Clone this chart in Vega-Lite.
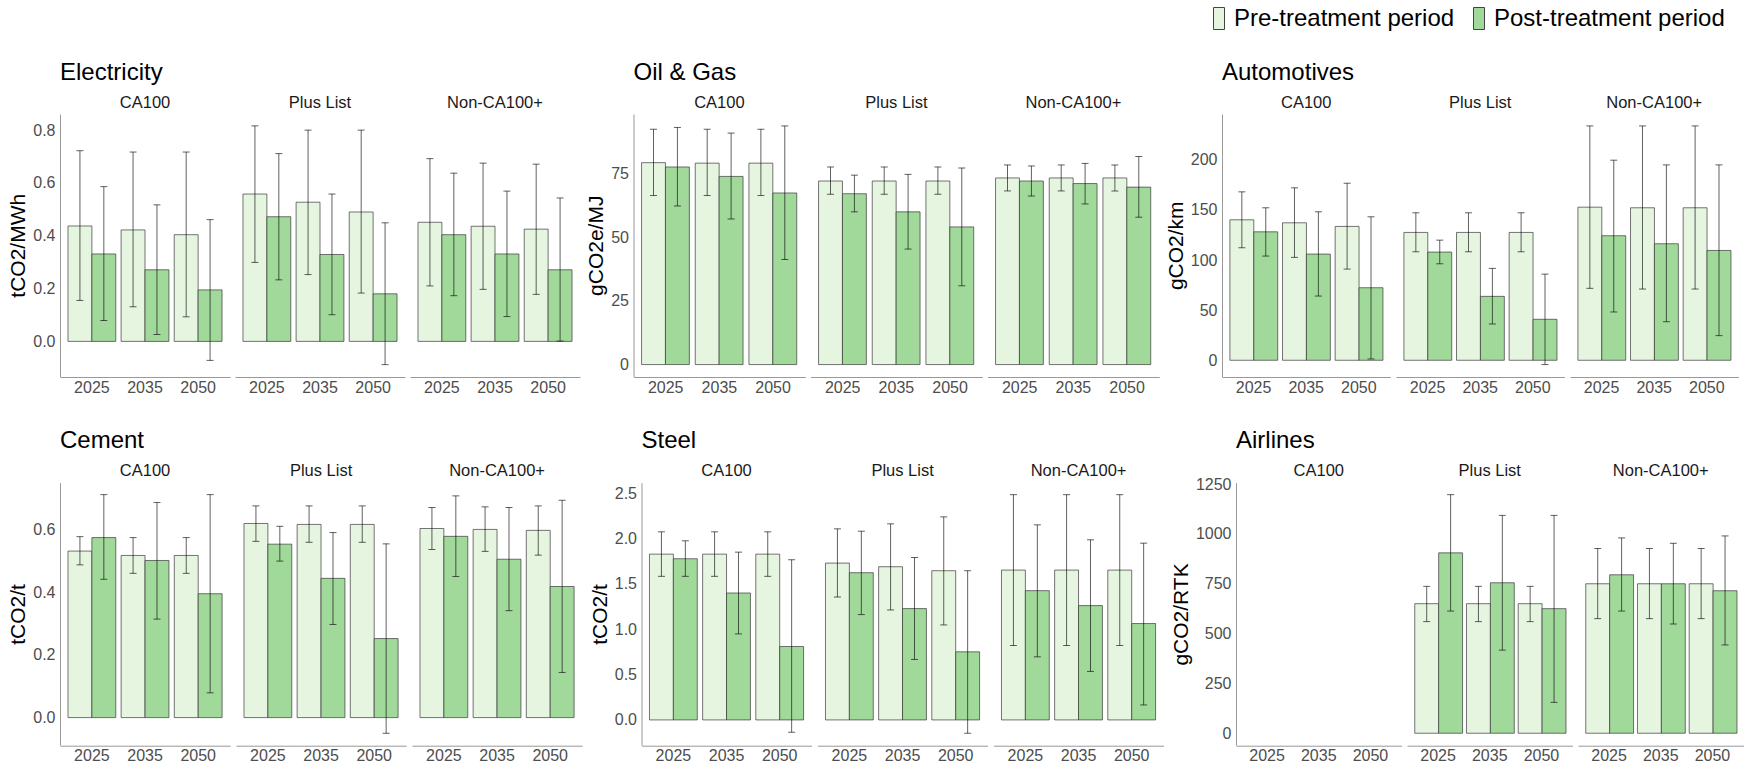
{
  "$schema": "https://vega.github.io/schema/vega-lite/v6.json",
  "padding": {"left": 7, "top": 6, "right": 0, "bottom": 0},
  "background": "white",
  "data": {"values": [
    {"sector":"Electricity","group":"CA100","year":"2025","period":"Pre-treatment period","value":0.437,"lo":0.155,"hi":0.722},
    {"sector":"Electricity","group":"CA100","year":"2025","period":"Post-treatment period","value":0.331,"lo":0.079,"hi":0.586},
    {"sector":"Electricity","group":"CA100","year":"2035","period":"Pre-treatment period","value":0.422,"lo":0.131,"hi":0.717},
    {"sector":"Electricity","group":"CA100","year":"2035","period":"Post-treatment period","value":0.271,"lo":0.026,"hi":0.517},
    {"sector":"Electricity","group":"CA100","year":"2050","period":"Pre-treatment period","value":0.404,"lo":0.093,"hi":0.717},
    {"sector":"Electricity","group":"CA100","year":"2050","period":"Post-treatment period","value":0.195,"lo":-0.072,"hi":0.461},
    {"sector":"Electricity","group":"Plus List","year":"2025","period":"Pre-treatment period","value":0.558,"lo":0.299,"hi":0.816},
    {"sector":"Electricity","group":"Plus List","year":"2025","period":"Post-treatment period","value":0.472,"lo":0.233,"hi":0.711},
    {"sector":"Electricity","group":"Plus List","year":"2035","period":"Pre-treatment period","value":0.527,"lo":0.253,"hi":0.800},
    {"sector":"Electricity","group":"Plus List","year":"2035","period":"Post-treatment period","value":0.329,"lo":0.101,"hi":0.558},
    {"sector":"Electricity","group":"Plus List","year":"2050","period":"Pre-treatment period","value":0.490,"lo":0.183,"hi":0.800},
    {"sector":"Electricity","group":"Plus List","year":"2050","period":"Post-treatment period","value":0.180,"lo":-0.088,"hi":0.449},
    {"sector":"Electricity","group":"Non-CA100+","year":"2025","period":"Pre-treatment period","value":0.451,"lo":0.210,"hi":0.692},
    {"sector":"Electricity","group":"Non-CA100+","year":"2025","period":"Post-treatment period","value":0.404,"lo":0.173,"hi":0.637},
    {"sector":"Electricity","group":"Non-CA100+","year":"2035","period":"Pre-treatment period","value":0.436,"lo":0.197,"hi":0.675},
    {"sector":"Electricity","group":"Non-CA100+","year":"2035","period":"Post-treatment period","value":0.331,"lo":0.094,"hi":0.569},
    {"sector":"Electricity","group":"Non-CA100+","year":"2050","period":"Pre-treatment period","value":0.425,"lo":0.178,"hi":0.671},
    {"sector":"Electricity","group":"Non-CA100+","year":"2050","period":"Post-treatment period","value":0.271,"lo":0.001,"hi":0.543},

    {"sector":"Oil & Gas","group":"CA100","year":"2025","period":"Pre-treatment period","value":79.2,"lo":66.3,"hi":92.3},
    {"sector":"Oil & Gas","group":"CA100","year":"2025","period":"Post-treatment period","value":77.5,"lo":62.2,"hi":93.0},
    {"sector":"Oil & Gas","group":"CA100","year":"2035","period":"Pre-treatment period","value":79.0,"lo":66.3,"hi":92.3},
    {"sector":"Oil & Gas","group":"CA100","year":"2035","period":"Post-treatment period","value":73.8,"lo":57.1,"hi":90.8},
    {"sector":"Oil & Gas","group":"CA100","year":"2050","period":"Pre-treatment period","value":79.0,"lo":66.3,"hi":92.3},
    {"sector":"Oil & Gas","group":"CA100","year":"2050","period":"Post-treatment period","value":67.3,"lo":41.2,"hi":93.6},
    {"sector":"Oil & Gas","group":"Plus List","year":"2025","period":"Pre-treatment period","value":72.0,"lo":66.8,"hi":77.5},
    {"sector":"Oil & Gas","group":"Plus List","year":"2025","period":"Post-treatment period","value":67.0,"lo":59.9,"hi":74.3},
    {"sector":"Oil & Gas","group":"Plus List","year":"2035","period":"Pre-treatment period","value":72.0,"lo":66.8,"hi":77.5},
    {"sector":"Oil & Gas","group":"Plus List","year":"2035","period":"Post-treatment period","value":59.9,"lo":45.3,"hi":74.6},
    {"sector":"Oil & Gas","group":"Plus List","year":"2050","period":"Pre-treatment period","value":72.0,"lo":66.8,"hi":77.5},
    {"sector":"Oil & Gas","group":"Plus List","year":"2050","period":"Post-treatment period","value":54.0,"lo":30.9,"hi":77.1},
    {"sector":"Oil & Gas","group":"Non-CA100+","year":"2025","period":"Pre-treatment period","value":73.2,"lo":68.1,"hi":78.3},
    {"sector":"Oil & Gas","group":"Non-CA100+","year":"2025","period":"Post-treatment period","value":72.0,"lo":66.1,"hi":77.9},
    {"sector":"Oil & Gas","group":"Non-CA100+","year":"2035","period":"Pre-treatment period","value":73.2,"lo":68.1,"hi":78.3},
    {"sector":"Oil & Gas","group":"Non-CA100+","year":"2035","period":"Post-treatment period","value":71.0,"lo":63.0,"hi":78.9},
    {"sector":"Oil & Gas","group":"Non-CA100+","year":"2050","period":"Pre-treatment period","value":73.2,"lo":68.1,"hi":78.3},
    {"sector":"Oil & Gas","group":"Non-CA100+","year":"2050","period":"Post-treatment period","value":69.6,"lo":57.8,"hi":81.6},

    {"sector":"Automotives","group":"CA100","year":"2025","period":"Pre-treatment period","value":140.2,"lo":112.3,"hi":168.1},
    {"sector":"Automotives","group":"CA100","year":"2025","period":"Post-treatment period","value":128.2,"lo":104.0,"hi":152.2},
    {"sector":"Automotives","group":"CA100","year":"2035","period":"Pre-treatment period","value":137.2,"lo":102.7,"hi":172.1},
    {"sector":"Automotives","group":"CA100","year":"2035","period":"Post-treatment period","value":106.0,"lo":64.1,"hi":148.2},
    {"sector":"Automotives","group":"CA100","year":"2050","period":"Pre-treatment period","value":133.6,"lo":91.0,"hi":176.7},
    {"sector":"Automotives","group":"CA100","year":"2050","period":"Post-treatment period","value":72.4,"lo":1.3,"hi":143.2},
    {"sector":"Automotives","group":"Plus List","year":"2025","period":"Pre-treatment period","value":127.6,"lo":108.3,"hi":147.2},
    {"sector":"Automotives","group":"Plus List","year":"2025","period":"Post-treatment period","value":108.0,"lo":96.3,"hi":119.9},
    {"sector":"Automotives","group":"Plus List","year":"2035","period":"Pre-treatment period","value":127.6,"lo":108.3,"hi":147.2},
    {"sector":"Automotives","group":"Plus List","year":"2035","period":"Post-treatment period","value":63.8,"lo":36.2,"hi":91.7},
    {"sector":"Automotives","group":"Plus List","year":"2050","period":"Pre-treatment period","value":127.6,"lo":108.3,"hi":147.2},
    {"sector":"Automotives","group":"Plus List","year":"2050","period":"Post-treatment period","value":40.9,"lo":-4.3,"hi":86.0},
    {"sector":"Automotives","group":"Non-CA100+","year":"2025","period":"Pre-treatment period","value":152.8,"lo":71.8,"hi":233.9},
    {"sector":"Automotives","group":"Non-CA100+","year":"2025","period":"Post-treatment period","value":124.3,"lo":48.2,"hi":199.7},
    {"sector":"Automotives","group":"Non-CA100+","year":"2035","period":"Pre-treatment period","value":152.2,"lo":71.1,"hi":233.9},
    {"sector":"Automotives","group":"Non-CA100+","year":"2035","period":"Post-treatment period","value":116.3,"lo":38.5,"hi":195.0},
    {"sector":"Automotives","group":"Non-CA100+","year":"2050","period":"Pre-treatment period","value":152.2,"lo":71.1,"hi":233.9},
    {"sector":"Automotives","group":"Non-CA100+","year":"2050","period":"Post-treatment period","value":109.6,"lo":24.6,"hi":195.0},

    {"sector":"Cement","group":"CA100","year":"2025","period":"Pre-treatment period","value":0.531,"lo":0.487,"hi":0.577},
    {"sector":"Cement","group":"CA100","year":"2025","period":"Post-treatment period","value":0.574,"lo":0.441,"hi":0.711},
    {"sector":"Cement","group":"CA100","year":"2035","period":"Pre-treatment period","value":0.517,"lo":0.460,"hi":0.574},
    {"sector":"Cement","group":"CA100","year":"2035","period":"Post-treatment period","value":0.501,"lo":0.314,"hi":0.686},
    {"sector":"Cement","group":"CA100","year":"2050","period":"Pre-treatment period","value":0.517,"lo":0.460,"hi":0.574},
    {"sector":"Cement","group":"CA100","year":"2050","period":"Post-treatment period","value":0.395,"lo":0.079,"hi":0.711},
    {"sector":"Cement","group":"Plus List","year":"2025","period":"Pre-treatment period","value":0.619,"lo":0.562,"hi":0.675},
    {"sector":"Cement","group":"Plus List","year":"2025","period":"Post-treatment period","value":0.553,"lo":0.499,"hi":0.610},
    {"sector":"Cement","group":"Plus List","year":"2035","period":"Pre-treatment period","value":0.616,"lo":0.559,"hi":0.675},
    {"sector":"Cement","group":"Plus List","year":"2035","period":"Post-treatment period","value":0.444,"lo":0.297,"hi":0.590},
    {"sector":"Cement","group":"Plus List","year":"2050","period":"Pre-treatment period","value":0.616,"lo":0.559,"hi":0.675},
    {"sector":"Cement","group":"Plus List","year":"2050","period":"Post-treatment period","value":0.252,"lo":-0.050,"hi":0.554},
    {"sector":"Cement","group":"Non-CA100+","year":"2025","period":"Pre-treatment period","value":0.603,"lo":0.536,"hi":0.670},
    {"sector":"Cement","group":"Non-CA100+","year":"2025","period":"Post-treatment period","value":0.578,"lo":0.450,"hi":0.707},
    {"sector":"Cement","group":"Non-CA100+","year":"2035","period":"Pre-treatment period","value":0.600,"lo":0.530,"hi":0.672},
    {"sector":"Cement","group":"Non-CA100+","year":"2035","period":"Post-treatment period","value":0.505,"lo":0.341,"hi":0.670},
    {"sector":"Cement","group":"Non-CA100+","year":"2050","period":"Pre-treatment period","value":0.597,"lo":0.518,"hi":0.675},
    {"sector":"Cement","group":"Non-CA100+","year":"2050","period":"Post-treatment period","value":0.418,"lo":0.144,"hi":0.693},

    {"sector":"Steel","group":"CA100","year":"2025","period":"Pre-treatment period","value":1.829,"lo":1.584,"hi":2.075},
    {"sector":"Steel","group":"CA100","year":"2025","period":"Post-treatment period","value":1.778,"lo":1.584,"hi":1.976},
    {"sector":"Steel","group":"CA100","year":"2035","period":"Pre-treatment period","value":1.829,"lo":1.584,"hi":2.075},
    {"sector":"Steel","group":"CA100","year":"2035","period":"Post-treatment period","value":1.400,"lo":0.949,"hi":1.851},
    {"sector":"Steel","group":"CA100","year":"2050","period":"Pre-treatment period","value":1.829,"lo":1.584,"hi":2.075},
    {"sector":"Steel","group":"CA100","year":"2050","period":"Post-treatment period","value":0.810,"lo":-0.136,"hi":1.767},
    {"sector":"Steel","group":"Plus List","year":"2025","period":"Pre-treatment period","value":1.730,"lo":1.356,"hi":2.108},
    {"sector":"Steel","group":"Plus List","year":"2025","period":"Post-treatment period","value":1.624,"lo":1.162,"hi":2.082},
    {"sector":"Steel","group":"Plus List","year":"2035","period":"Pre-treatment period","value":1.690,"lo":1.213,"hi":2.163},
    {"sector":"Steel","group":"Plus List","year":"2035","period":"Post-treatment period","value":1.228,"lo":0.667,"hi":1.792},
    {"sector":"Steel","group":"Plus List","year":"2050","period":"Pre-treatment period","value":1.646,"lo":1.048,"hi":2.240},
    {"sector":"Steel","group":"Plus List","year":"2050","period":"Post-treatment period","value":0.751,"lo":-0.147,"hi":1.646},
    {"sector":"Steel","group":"Non-CA100+","year":"2025","period":"Pre-treatment period","value":1.653,"lo":0.821,"hi":2.485},
    {"sector":"Steel","group":"Non-CA100+","year":"2025","period":"Post-treatment period","value":1.426,"lo":0.696,"hi":2.152},
    {"sector":"Steel","group":"Non-CA100+","year":"2035","period":"Pre-treatment period","value":1.653,"lo":0.821,"hi":2.485},
    {"sector":"Steel","group":"Non-CA100+","year":"2035","period":"Post-treatment period","value":1.261,"lo":0.535,"hi":1.987},
    {"sector":"Steel","group":"Non-CA100+","year":"2050","period":"Pre-treatment period","value":1.653,"lo":0.821,"hi":2.485},
    {"sector":"Steel","group":"Non-CA100+","year":"2050","period":"Post-treatment period","value":1.063,"lo":0.165,"hi":1.950},

    {"sector":"Airlines","group":"CA100","year":"2025","period":"Pre-treatment period","value":null,"lo":null,"hi":null},
    {"sector":"Airlines","group":"CA100","year":"2035","period":"Pre-treatment period","value":null,"lo":null,"hi":null},
    {"sector":"Airlines","group":"CA100","year":"2050","period":"Pre-treatment period","value":null,"lo":null,"hi":null},
    {"sector":"Airlines","group":"Plus List","year":"2025","period":"Pre-treatment period","value":650,"lo":560,"hi":737},
    {"sector":"Airlines","group":"Plus List","year":"2025","period":"Post-treatment period","value":905,"lo":613,"hi":1197},
    {"sector":"Airlines","group":"Plus List","year":"2035","period":"Pre-treatment period","value":650,"lo":560,"hi":737},
    {"sector":"Airlines","group":"Plus List","year":"2035","period":"Post-treatment period","value":755,"lo":417,"hi":1093},
    {"sector":"Airlines","group":"Plus List","year":"2050","period":"Pre-treatment period","value":650,"lo":560,"hi":737},
    {"sector":"Airlines","group":"Plus List","year":"2050","period":"Post-treatment period","value":625,"lo":155,"hi":1093},
    {"sector":"Airlines","group":"Non-CA100+","year":"2025","period":"Pre-treatment period","value":750,"lo":575,"hi":927},
    {"sector":"Airlines","group":"Non-CA100+","year":"2025","period":"Post-treatment period","value":795,"lo":613,"hi":980},
    {"sector":"Airlines","group":"Non-CA100+","year":"2035","period":"Pre-treatment period","value":750,"lo":575,"hi":927},
    {"sector":"Airlines","group":"Non-CA100+","year":"2035","period":"Post-treatment period","value":750,"lo":548,"hi":953},
    {"sector":"Airlines","group":"Non-CA100+","year":"2050","period":"Pre-treatment period","value":750,"lo":575,"hi":927},
    {"sector":"Airlines","group":"Non-CA100+","year":"2050","period":"Post-treatment period","value":715,"lo":443,"hi":990}
  ]},
  "spacing": 33.7,
  "vconcat": [
    {
      "spacing": 5.5,
      "hconcat": [
        {
          "title": "Electricity",
          "transform": [{"filter": "datum.sector === 'Electricity'"}],
          "facet": {"column": {"field": "group", "type": "nominal", "sort": ["CA100", "Plus List", "Non-CA100+"], "header": {"title": null}}},
          "spacing": 5,
          "spec": {
            "width": 170, "height": 262.5,
            "encoding": {
              "x": {"field": "year", "type": "ordinal", "title": null, "scale": {"paddingInner": 0.1, "paddingOuter": 0.15}},
              "xOffset": {"field": "period", "type": "nominal", "sort": ["Pre-treatment period", "Post-treatment period"]}
            },
            "layer": [
              {"mark": {"type": "bar", "stroke": "#333", "strokeWidth": 0.9, "strokeOpacity": 0.75},
               "encoding": {
                 "y": {"field": "value", "type": "quantitative", "scale": {"domain": [-0.133, 0.861], "nice": false, "zero": false}, "axis": {"title": "tCO2/MWh", "values": [0, 0.2, 0.4, 0.6, 0.8], "format": ".1f"}},
                 "fill": {"field": "period", "type": "nominal", "sort": ["Pre-treatment period", "Post-treatment period"], "scale": {"domain": ["Pre-treatment period", "Post-treatment period"], "range": ["#e5f5e0", "#a1d99b"]}, "legend": {"title": null, "orient": "none", "direction": "horizontal", "legendX": 1147, "legendY": -107.5}}}},
              {"mark": {"type": "rule", "color": "#000", "opacity": 0.62, "strokeWidth": 1},
               "encoding": {
                 "y": {"field": "lo", "type": "quantitative", "scale": {"domain": [-0.133, 0.861], "nice": false, "zero": false}, "axis": {"title": "tCO2/MWh", "values": [0, 0.2, 0.4, 0.6, 0.8], "format": ".1f"}},
                 "y2": {"field": "hi"}}},
              {"transform": [{"fold": ["lo", "hi"], "as": ["end", "bound"]}],
               "mark": {"type": "tick", "color": "#000", "opacity": 0.62, "thickness": 1, "size": 7},
               "encoding": {
                 "y": {"field": "bound", "type": "quantitative", "scale": {"domain": [-0.133, 0.861], "nice": false, "zero": false}, "axis": {"title": "tCO2/MWh", "values": [0, 0.2, 0.4, 0.6, 0.8], "format": ".1f"}}}}
            ]
          }
        },
        {
          "title": "Oil & Gas",
          "transform": [{"filter": "datum.sector === 'Oil & Gas'"}],
          "facet": {"column": {"field": "group", "type": "nominal", "sort": ["CA100", "Plus List", "Non-CA100+"], "header": {"title": null}}},
          "spacing": 5,
          "spec": {
            "width": 171.8, "height": 262.5,
            "encoding": {
              "x": {"field": "year", "type": "ordinal", "title": null, "scale": {"paddingInner": 0.1, "paddingOuter": 0.15}},
              "xOffset": {"field": "period", "type": "nominal", "sort": ["Pre-treatment period", "Post-treatment period"]}
            },
            "layer": [
              {"mark": {"type": "bar", "stroke": "#333", "strokeWidth": 0.9, "strokeOpacity": 0.75},
               "encoding": {
                 "y": {"field": "value", "type": "quantitative", "scale": {"domain": [-4.68, 98.28], "nice": false, "zero": false}, "axis": {"title": "gCO2e/MJ", "values": [0, 25, 50, 75], "format": "d"}},
                 "fill": {"field": "period", "type": "nominal", "sort": ["Pre-treatment period", "Post-treatment period"], "scale": {"domain": ["Pre-treatment period", "Post-treatment period"], "range": ["#e5f5e0", "#a1d99b"]}, "legend": {"title": null, "orient": "none", "direction": "horizontal", "legendX": 1147, "legendY": -107.5}}}},
              {"mark": {"type": "rule", "color": "#000", "opacity": 0.62, "strokeWidth": 1},
               "encoding": {
                 "y": {"field": "lo", "type": "quantitative", "scale": {"domain": [-4.68, 98.28], "nice": false, "zero": false}, "axis": {"title": "gCO2e/MJ", "values": [0, 25, 50, 75], "format": "d"}},
                 "y2": {"field": "hi"}}},
              {"transform": [{"fold": ["lo", "hi"], "as": ["end", "bound"]}],
               "mark": {"type": "tick", "color": "#000", "opacity": 0.62, "thickness": 1, "size": 7},
               "encoding": {
                 "y": {"field": "bound", "type": "quantitative", "scale": {"domain": [-4.68, 98.28], "nice": false, "zero": false}, "axis": {"title": "gCO2e/MJ", "values": [0, 25, 50, 75], "format": "d"}}}}
            ]
          }
        },
        {
          "title": "Automotives",
          "transform": [{"filter": "datum.sector === 'Automotives'"}],
          "facet": {"column": {"field": "group", "type": "nominal", "sort": ["CA100", "Plus List", "Non-CA100+"], "header": {"title": null}}},
          "spacing": 5,
          "spec": {
            "width": 168.4, "height": 262.5,
            "encoding": {
              "x": {"field": "year", "type": "ordinal", "title": null, "scale": {"paddingInner": 0.1, "paddingOuter": 0.15}},
              "xOffset": {"field": "period", "type": "nominal", "sort": ["Pre-treatment period", "Post-treatment period"]}
            },
            "layer": [
              {"mark": {"type": "bar", "stroke": "#333", "strokeWidth": 0.9, "strokeOpacity": 0.75},
               "encoding": {
                 "y": {"field": "value", "type": "quantitative", "scale": {"domain": [-16.2, 245.8], "nice": false, "zero": false}, "axis": {"title": "gCO2/km", "values": [0, 50, 100, 150, 200], "format": "d"}},
                 "fill": {"field": "period", "type": "nominal", "sort": ["Pre-treatment period", "Post-treatment period"], "scale": {"domain": ["Pre-treatment period", "Post-treatment period"], "range": ["#e5f5e0", "#a1d99b"]}, "legend": {"title": null, "orient": "none", "direction": "horizontal", "legendX": 1147, "legendY": -107.5}}}},
              {"mark": {"type": "rule", "color": "#000", "opacity": 0.62, "strokeWidth": 1},
               "encoding": {
                 "y": {"field": "lo", "type": "quantitative", "scale": {"domain": [-16.2, 245.8], "nice": false, "zero": false}, "axis": {"title": "gCO2/km", "values": [0, 50, 100, 150, 200], "format": "d"}},
                 "y2": {"field": "hi"}}},
              {"transform": [{"fold": ["lo", "hi"], "as": ["end", "bound"]}],
               "mark": {"type": "tick", "color": "#000", "opacity": 0.62, "thickness": 1, "size": 7},
               "encoding": {
                 "y": {"field": "bound", "type": "quantitative", "scale": {"domain": [-16.2, 245.8], "nice": false, "zero": false}, "axis": {"title": "gCO2/km", "values": [0, 50, 100, 150, 200], "format": "d"}}}}
            ]
          }
        }
      ]
    },
    {
      "spacing": 5.5,
      "hconcat": [
        {
          "title": "Cement",
          "transform": [{"filter": "datum.sector === 'Cement'"}],
          "facet": {"column": {"field": "group", "type": "nominal", "sort": ["CA100", "Plus List", "Non-CA100+"], "header": {"title": null}}},
          "spacing": 5,
          "spec": {
            "width": 170.1, "height": 262.5,
            "encoding": {
              "x": {"field": "year", "type": "ordinal", "title": null, "scale": {"paddingInner": 0.1, "paddingOuter": 0.15}},
              "xOffset": {"field": "period", "type": "nominal", "sort": ["Pre-treatment period", "Post-treatment period"]}
            },
            "layer": [
              {"mark": {"type": "bar", "stroke": "#333", "strokeWidth": 0.9, "strokeOpacity": 0.75},
               "encoding": {
                 "y": {"field": "value", "type": "quantitative", "scale": {"domain": [-0.088, 0.749], "nice": false, "zero": false}, "axis": {"title": "tCO2/t", "values": [0, 0.2, 0.4, 0.6], "format": ".1f"}},
                 "fill": {"field": "period", "type": "nominal", "sort": ["Pre-treatment period", "Post-treatment period"], "scale": {"domain": ["Pre-treatment period", "Post-treatment period"], "range": ["#e5f5e0", "#a1d99b"]}, "legend": {"title": null, "orient": "none", "direction": "horizontal", "legendX": 1147, "legendY": -107.5}}}},
              {"mark": {"type": "rule", "color": "#000", "opacity": 0.62, "strokeWidth": 1},
               "encoding": {
                 "y": {"field": "lo", "type": "quantitative", "scale": {"domain": [-0.088, 0.749], "nice": false, "zero": false}, "axis": {"title": "tCO2/t", "values": [0, 0.2, 0.4, 0.6], "format": ".1f"}},
                 "y2": {"field": "hi"}}},
              {"transform": [{"fold": ["lo", "hi"], "as": ["end", "bound"]}],
               "mark": {"type": "tick", "color": "#000", "opacity": 0.62, "thickness": 1, "size": 7},
               "encoding": {
                 "y": {"field": "bound", "type": "quantitative", "scale": {"domain": [-0.088, 0.749], "nice": false, "zero": false}, "axis": {"title": "tCO2/t", "values": [0, 0.2, 0.4, 0.6], "format": ".1f"}}}}
            ]
          }
        },
        {
          "title": "Steel",
          "transform": [{"filter": "datum.sector === 'Steel'"}],
          "facet": {"column": {"field": "group", "type": "nominal", "sort": ["CA100", "Plus List", "Non-CA100+"], "header": {"title": null}}},
          "spacing": 5,
          "spec": {
            "width": 170.1, "height": 262.5,
            "encoding": {
              "x": {"field": "year", "type": "ordinal", "title": null, "scale": {"paddingInner": 0.1, "paddingOuter": 0.15}},
              "xOffset": {"field": "period", "type": "nominal", "sort": ["Pre-treatment period", "Post-treatment period"]}
            },
            "layer": [
              {"mark": {"type": "bar", "stroke": "#333", "strokeWidth": 0.9, "strokeOpacity": 0.75},
               "encoding": {
                 "y": {"field": "value", "type": "quantitative", "scale": {"domain": [-0.279, 2.617], "nice": false, "zero": false}, "axis": {"title": "tCO2/t", "values": [0, 0.5, 1, 1.5, 2, 2.5], "format": ".1f"}},
                 "fill": {"field": "period", "type": "nominal", "sort": ["Pre-treatment period", "Post-treatment period"], "scale": {"domain": ["Pre-treatment period", "Post-treatment period"], "range": ["#e5f5e0", "#a1d99b"]}, "legend": {"title": null, "orient": "none", "direction": "horizontal", "legendX": 1147, "legendY": -107.5}}}},
              {"mark": {"type": "rule", "color": "#000", "opacity": 0.62, "strokeWidth": 1},
               "encoding": {
                 "y": {"field": "lo", "type": "quantitative", "scale": {"domain": [-0.279, 2.617], "nice": false, "zero": false}, "axis": {"title": "tCO2/t", "values": [0, 0.5, 1, 1.5, 2, 2.5], "format": ".1f"}},
                 "y2": {"field": "hi"}}},
              {"transform": [{"fold": ["lo", "hi"], "as": ["end", "bound"]}],
               "mark": {"type": "tick", "color": "#000", "opacity": 0.62, "thickness": 1, "size": 7},
               "encoding": {
                 "y": {"field": "bound", "type": "quantitative", "scale": {"domain": [-0.279, 2.617], "nice": false, "zero": false}, "axis": {"title": "tCO2/t", "values": [0, 0.5, 1, 1.5, 2, 2.5], "format": ".1f"}}}}
            ]
          }
        },
        {
          "title": "Airlines",
          "transform": [{"filter": "datum.sector === 'Airlines'"}],
          "facet": {"column": {"field": "group", "type": "nominal", "sort": ["CA100", "Plus List", "Non-CA100+"], "header": {"title": null}}},
          "spacing": 5,
          "spec": {
            "width": 165.5, "height": 262.5,
            "encoding": {
              "x": {"field": "year", "type": "ordinal", "title": null, "scale": {"paddingInner": 0.1, "paddingOuter": 0.15}},
              "xOffset": {"field": "period", "type": "nominal", "sort": ["Pre-treatment period", "Post-treatment period"]}
            },
            "layer": [
              {"mark": {"type": "bar", "stroke": "#333", "strokeWidth": 0.9, "strokeOpacity": 0.75},
               "encoding": {
                 "y": {"field": "value", "type": "quantitative", "scale": {"domain": [-60, 1257], "nice": false, "zero": false}, "axis": {"title": "gCO2/RTK", "values": [0, 250, 500, 750, 1000, 1250], "format": "d"}},
                 "fill": {"field": "period", "type": "nominal", "sort": ["Pre-treatment period", "Post-treatment period"], "scale": {"domain": ["Pre-treatment period", "Post-treatment period"], "range": ["#e5f5e0", "#a1d99b"]}, "legend": {"title": null, "orient": "none", "direction": "horizontal", "legendX": 1147, "legendY": -107.5}}}},
              {"mark": {"type": "rule", "color": "#000", "opacity": 0.62, "strokeWidth": 1},
               "encoding": {
                 "y": {"field": "lo", "type": "quantitative", "scale": {"domain": [-60, 1257], "nice": false, "zero": false}, "axis": {"title": "gCO2/RTK", "values": [0, 250, 500, 750, 1000, 1250], "format": "d"}},
                 "y2": {"field": "hi"}}},
              {"transform": [{"fold": ["lo", "hi"], "as": ["end", "bound"]}],
               "mark": {"type": "tick", "color": "#000", "opacity": 0.62, "thickness": 1, "size": 7},
               "encoding": {
                 "y": {"field": "bound", "type": "quantitative", "scale": {"domain": [-60, 1257], "nice": false, "zero": false}, "axis": {"title": "gCO2/RTK", "values": [0, 250, 500, 750, 1000, 1250], "format": "d"}}}}
            ]
          }
        }
      ]
    }
  ],
  "config": {
    "font": "Liberation Sans",
    "view": {"stroke": null},
    "axis": {"ticks": false, "grid": false, "labelFont": "Liberation Sans", "labelFontSize": 16, "labelColor": "#4d4d4d", "titleFont": "Liberation Sans", "titleFontSize": 21, "titleFontWeight": "normal", "titleColor": "#000", "domainColor": "#999", "domainWidth": 1},
    "axisX": {"labelPadding": 2, "labelAngle": 0},
    "axisY": {"labelPadding": 5, "titlePadding": 4},
    "header": {"labelFont": "Liberation Sans", "labelFontSize": 16.5, "labelColor": "#1a1a1a", "labelPadding": 3},
    "title": {"font": "Liberation Sans", "fontSize": 24, "fontWeight": "normal", "color": "#000", "anchor": "start", "frame": "group", "offset": 10},
    "legend": {"labelFont": "Liberation Sans", "labelFontSize": 24, "labelColor": "#000", "labelLimit": 0, "symbolType": "M-0.5,-1L0.5,-1L0.5,1L-0.5,1Z", "symbolSize": 484, "symbolStrokeColor": "#444", "symbolStrokeWidth": 1, "symbolOpacity": 1, "labelOffset": 3, "columnPadding": 12, "padding": 0}
  }
}
